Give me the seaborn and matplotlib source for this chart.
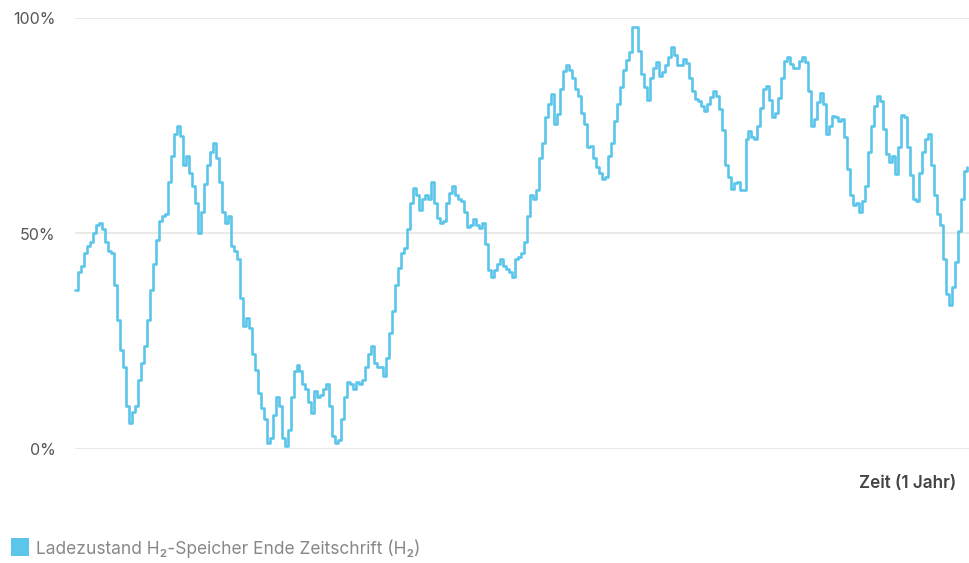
import matplotlib
matplotlib.use("Agg")
import numpy as np
import pandas as pd
import matplotlib.pyplot as plt
import seaborn as sns
from matplotlib.patches import Rectangle

# state of charge of the H2 storage (one value ~ every 29 h over one year)
soc_part1 = [37, 41, 42.5, 45.5, 47, 48, 50, 52, 52.5, 51, 48, 46, 45.5, 38, 30, 23, 19, 10, 6, 8.5,
             10, 16, 20, 24, 30, 37, 43, 48.5, 53, 54, 54.5, 62, 68, 73, 75, 72.7, 66, 68, 64, 61,
             57, 50, 55, 61.4, 66, 69, 71, 67.5, 62, 55, 52.5, 54, 47, 46, 44, 35, 28.5, 30.5, 28, 22]
soc_part2 = [18.4, 13, 9.5, 7, 1.4, 2.5, 8, 12, 10, 2.5, 0.6, 4.5, 12, 18, 19.6, 18, 15, 14, 11, 8.4,
             13.4, 12, 12.5, 14, 15, 10, 3, 1.4, 2, 7, 12, 15.5, 15, 14, 15.5, 15, 16, 19, 22, 24,
             20, 19, 19, 17, 21, 27, 32, 38, 42, 45.5, 46.7, 51, 57, 60.5, 59, 55.5, 58, 59, 58, 62]
soc_part3 = [57, 53.7, 52.5, 53, 57, 59.5, 61, 59, 58, 57.5, 55, 51.5, 52, 53.3, 52, 51.3, 52.5, 47.5, 41.5, 40,
             41.5, 43, 44, 42.4, 41.7, 41, 40, 44, 44.5, 45.5, 48, 54, 59, 58, 60, 67.5, 71, 77, 80, 82.3,
             75.4, 77.7, 83.5, 87.8, 89, 88, 86, 83.5, 82, 78, 75.4, 70, 70.3, 67.5, 65.5, 64, 62.6, 63, 68, 71]
soc_part4 = [76, 80, 84, 88, 90.2, 92, 98, 98, 92.4, 87, 83.9, 81, 86, 88.5, 89.7, 86.6, 87.5, 89, 91, 93.2,
             91.5, 89, 89, 90.5, 89.5, 86, 83, 81.3, 80.8, 79.5, 78.5, 80, 81.6, 83, 82, 79, 74, 66, 63, 60.3,
             61.8, 62, 60, 60, 72, 73.8, 72.5, 72, 75, 79.2, 83.5, 84.3, 81, 77, 78, 81.5, 86, 90, 91, 89.3]
soc_part5 = [88.5, 88.5, 90, 91, 89.7, 83, 75, 76.5, 80.5, 82.5, 80, 73, 75, 77.3, 77, 76, 76.5, 72.3, 65, 59,
             56.5, 57, 55, 57.5, 61, 69, 75, 79.6, 82, 80.8, 74.2, 68.4, 66.5, 68, 63.7, 70, 77.5, 77, 70, 63.5,
             58, 57.5, 64, 69, 72, 73, 66, 59, 54.5, 52, 44, 36, 33.5, 37.5, 43.5, 50.6, 58, 64.5, 65.5]

soc = soc_part1 + soc_part2 + soc_part3 + soc_part4 + soc_part5
hours = np.arange(len(soc)) * 8760 / len(soc)

y_ticks = [0, 50, 100]
y_labels = ["0%", "50%", "100%"]
x_label = "Zeit (1 Jahr)"
legend_label = "Ladezustand H\u2082-Speicher Ende Zeitschrift (H\u2082)"
line_color = "#5BC5EA"

df = pd.DataFrame({"hour": hours, "soc": soc})

sns.set_theme(style="white")
plt.rcParams["font.family"] = ["Inter", "DejaVu Sans"]

fig = plt.figure(figsize=(9.7, 5.63), dpi=100)
ax = fig.add_axes([75 / 970, 1 - 449 / 563, 1 - 75 / 970, (449 - 18) / 563])

sns.lineplot(data=df, x="hour", y="soc", ax=ax, color=line_color, linewidth=1.9,
             drawstyle="steps-post", estimator=None, clip_on=False)

ax.set_xlim(0, 8760)
ax.set_ylim(0, 100)
ax.set_yticks(y_ticks)
ax.set_yticklabels(y_labels)
ax.set_xticks([])
ax.set_xlabel("")
ax.set_ylabel("")
ax.tick_params(axis="y", length=0, pad=14, labelsize=11.5, labelcolor="#555555")
for y in y_ticks:
    ax.axhline(y, color="#e6e6e6", linewidth=1.2, zorder=0)
for s in ax.spines.values():
    s.set_visible(False)

fig.text(956 / 970, 1 - 483 / 563, x_label, ha="right", va="center",
         fontsize=12.3, fontweight="semibold", color="#444444")

fig.patches.append(Rectangle((11 / 970, 1 - 556 / 563), 18 / 970, 18 / 563,
                             transform=fig.transFigure, facecolor=line_color, edgecolor="none"))
fig.text(36 / 970, 1 - 549 / 563, legend_label, ha="left", va="center",
         fontsize=12.5, color="#888888")

fig.savefig("out.png", dpi=100)
